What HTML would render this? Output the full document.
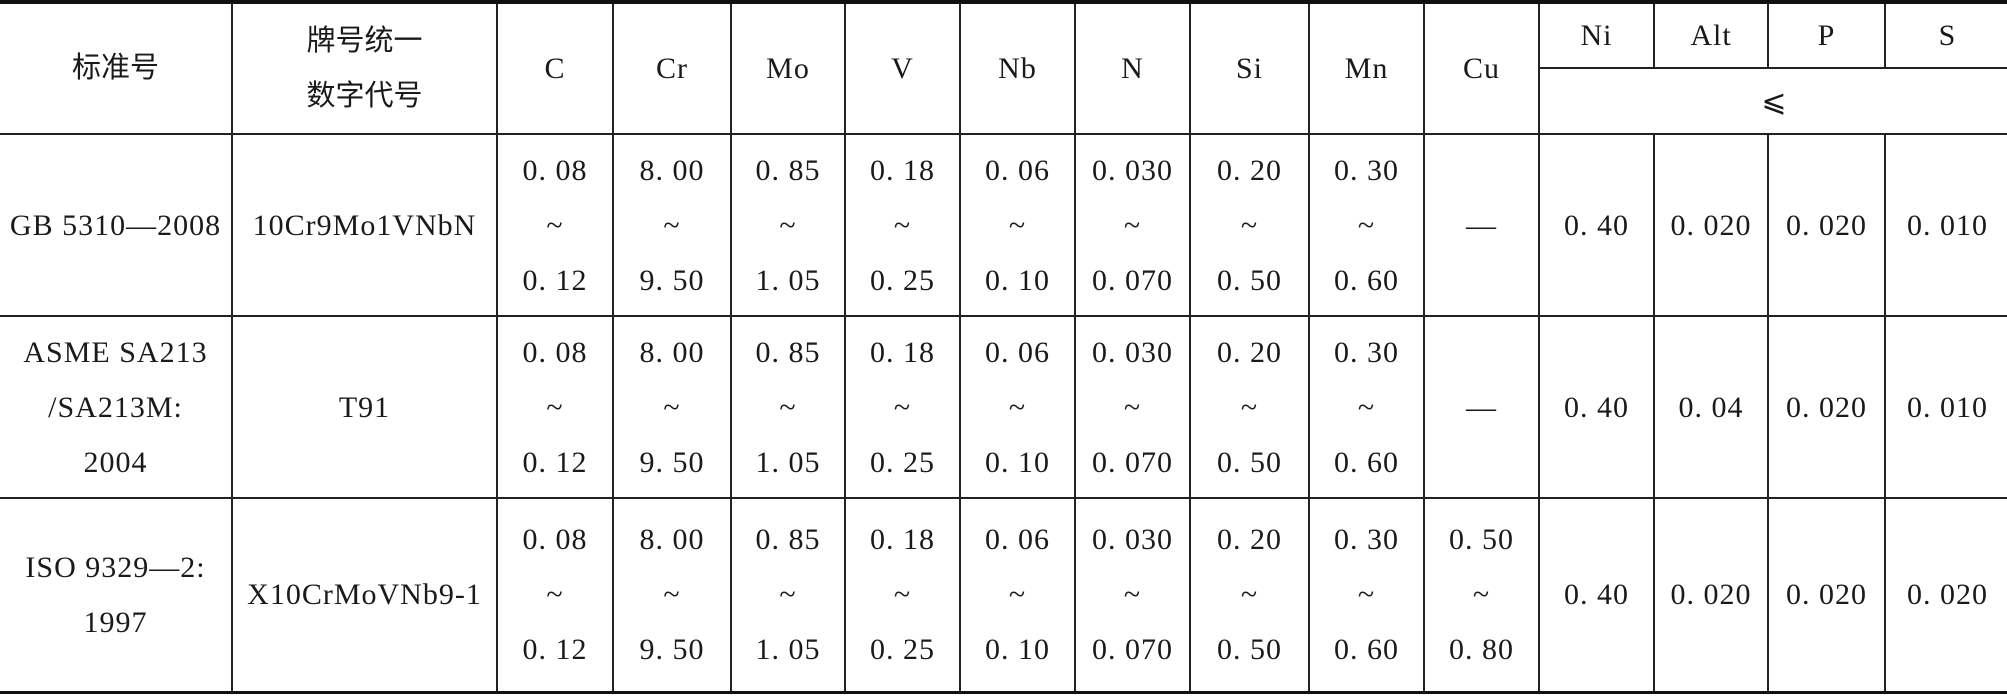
<!DOCTYPE html>
<html><head><meta charset="utf-8"><style>
html,body{margin:0;padding:0;background:#fff;width:2007px;height:696px;overflow:hidden}
table{position:absolute;left:0;top:0;border-collapse:collapse;table-layout:fixed;width:2009px;border-top:4px solid #111;border-bottom:3px solid #111}
td{border:2px solid #222;text-align:center;vertical-align:middle;padding:0;font-family:"Liberation Serif","Noto Serif CJK SC",serif;font-size:30px;letter-spacing:1px;color:#1a1a1a;line-height:55px;white-space:nowrap;overflow:hidden}
tr td:first-child{border-left:none}
tr td:last-child{border-right:none}
.cj{font-family:"Liberation Serif","Noto Sans CJK SC",sans-serif;font-size:29px;letter-spacing:0}
.le{font-family:"DejaVu Serif","Liberation Serif",serif;font-size:30px}
</style></head><body>
<table>
<colgroup>
<col style="width:232px"><col style="width:265px"><col style="width:116px"><col style="width:118px"><col style="width:114px"><col style="width:115px"><col style="width:115px"><col style="width:115px"><col style="width:119px"><col style="width:115px"><col style="width:115px"><col style="width:115px"><col style="width:114px"><col style="width:117px">
</colgroup>
<tr style="height:66px">
<td rowspan="2" class="cj">标准号</td>
<td rowspan="2" class="cj">牌号统一<br>数字代号</td>
<td rowspan="2">C</td><td rowspan="2">Cr</td><td rowspan="2">Mo</td><td rowspan="2">V</td><td rowspan="2">Nb</td><td rowspan="2">N</td><td rowspan="2">Si</td><td rowspan="2">Mn</td><td rowspan="2">Cu</td>
<td>Ni</td><td>Alt</td><td>P</td><td>S</td>
</tr>
<tr style="height:66px"><td colspan="4" class="le">⩽</td></tr>
<tr style="height:182px">
<td>GB 5310—2008</td><td>10Cr9Mo1VNbN</td>
<td>0. 08<br>~<br>0. 12</td><td>8. 00<br>~<br>9. 50</td><td>0. 85<br>~<br>1. 05</td><td>0. 18<br>~<br>0. 25</td><td>0. 06<br>~<br>0. 10</td><td>0. 030<br>~<br>0. 070</td><td>0. 20<br>~<br>0. 50</td><td>0. 30<br>~<br>0. 60</td>
<td>—</td><td>0. 40</td><td>0. 020</td><td>0. 020</td><td>0. 010</td>
</tr>
<tr style="height:182px">
<td>ASME SA213<br>/SA213M:<br>2004</td><td>T91</td>
<td>0. 08<br>~<br>0. 12</td><td>8. 00<br>~<br>9. 50</td><td>0. 85<br>~<br>1. 05</td><td>0. 18<br>~<br>0. 25</td><td>0. 06<br>~<br>0. 10</td><td>0. 030<br>~<br>0. 070</td><td>0. 20<br>~<br>0. 50</td><td>0. 30<br>~<br>0. 60</td>
<td>—</td><td>0. 40</td><td>0. 04</td><td>0. 020</td><td>0. 010</td>
</tr>
<tr style="height:194px">
<td>ISO 9329—2:<br>1997</td><td>X10CrMoVNb9-1</td>
<td>0. 08<br>~<br>0. 12</td><td>8. 00<br>~<br>9. 50</td><td>0. 85<br>~<br>1. 05</td><td>0. 18<br>~<br>0. 25</td><td>0. 06<br>~<br>0. 10</td><td>0. 030<br>~<br>0. 070</td><td>0. 20<br>~<br>0. 50</td><td>0. 30<br>~<br>0. 60</td>
<td>0. 50<br>~<br>0. 80</td><td>0. 40</td><td>0. 020</td><td>0. 020</td><td>0. 020</td>
</tr>
</table>
</body></html>
